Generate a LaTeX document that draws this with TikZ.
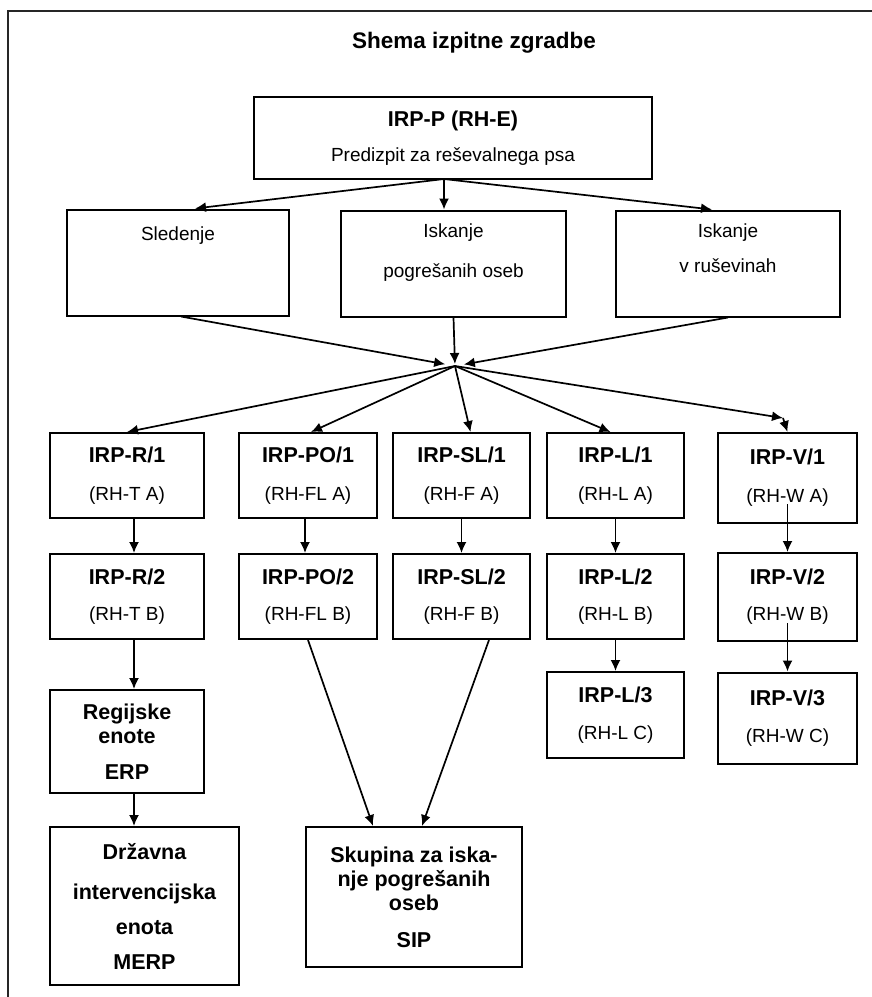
\documentclass[tikz,border=0pt]{standalone}
\usepackage{fontspec}
\setmainfont{Liberation Sans}
\usetikzlibrary{arrows.meta}
\tikzset{%
  >={Latex[width=10pt,length=11pt]},
  % Specifications for style of nodes:
  base/.style = {
    draw=black,
    line width=2pt,
    inner sep=0pt,
    text centered,
    font=\fontsize{19}{24}\selectfont
  },
  action/.style={base, rectangle, align=center},
  unit/.style={action, font=\fontsize{21.5}{24}\selectfont\bfseries},
  search/.style={base, rectangle, minimum height=106pt},
}
\newcommand{\code}[1]{{\fontsize{21.5}{24}\selectfont\bfseries #1}}
\newcommand{\toptext}[2]{\parbox[c][106pt][t]{210pt}{\centering\rule{0pt}{#1}#2}}

\begin{document}
\begin{tikzpicture}[
  x=1pt, y=-1pt,
  line width=1.7pt,
  node distance=121pt,
  ]
  \useasboundingbox (0,0) rectangle (872,997);
  % frame and title
  \draw[line width=2.2pt, black!85] (880,11) -- (8,11) -- (8,1005);
  \node (title) at (474,43) {\fontsize{22.5}{27}\selectfont\bfseries Shema izpitne zgradbe};
  % nodes
  \node (irpp) at (453,138) [action, minimum width=398pt, minimum height=82pt]
  {\code{IRP-P (RH-E)}\\[11pt] Predizpit za reševalnega psa};
  \node (sled) at (178,262.5) [search, minimum width=222pt]
  {\toptext{31pt}{Sledenje}};
  \node (isk) at (453.5,263.5) [search, minimum width=225pt]
  {\toptext{27pt}{Iskanje\\[16pt]pogrešanih oseb}};
  \node (rus) at (728,263.5) [search, minimum width=224pt]
  {\toptext{27pt}{Iskanje\\[11pt]v ruševinah}};
  % first test
  \node (r1) at (127,475.5) [action, minimum width=154pt, minimum height=85pt]
  {\code{IRP-R/1}\\[14pt](RH-T A)};
  \node (po1) at (308,475.5) [action, minimum width=138pt, minimum height=85pt]
  {\code{IRP-PO/1}\\[14pt](RH-FL A)};
  \node (sl1) at (461.5,475.5) [action, minimum width=137pt, minimum height=85pt]
  {\code{IRP-SL/1}\\[14pt](RH-F A)};
  \node (l1) at (615.5,475.5) [action, minimum width=137pt, minimum height=85pt]
  {\code{IRP-L/1}\\[14pt](RH-L A)};
  \node (v1) at (787.5,478) [action, minimum width=139pt, minimum height=90pt]
  {\code{IRP-V/1}\\[14pt](RH-W A)};
  % second test
  \node (r2) [action, below of=r1, minimum width=154pt, minimum height=85pt]
  {\code{IRP-R/2}\\[12pt](RH-T B)};
  \node (po2) [action, below of=po1, minimum width=138pt, minimum height=85pt]
  {\code{IRP-PO/2}\\[12pt](RH-FL B)};
  \node (sl2) [action, below of=sl1, minimum width=137pt, minimum height=85pt]
  {\code{IRP-SL/2}\\[12pt](RH-F B)};
  \node (l2) [action, below of=l1, minimum width=137pt, minimum height=85pt]
  {\code{IRP-L/2}\\[12pt](RH-L B)};
  \node (v2) [action, below of=v1, yshift=2pt, minimum width=139pt, minimum height=88pt]
  {\code{IRP-V/2}\\[12pt](RH-W B)};
  % third test and units
  \node (reg) [unit, below of=r2, yshift=-24pt, minimum width=154pt, minimum height=103pt]
  {Regijske\\enote\\[12pt]ERP};
  \node (l3) [action, below of=l2, yshift=2.5pt, minimum width=137pt, minimum height=86pt]
  {\code{IRP-L/3}\\[13pt](RH-L C)};
  \node (v3) [action, below of=v2, minimum width=139pt, minimum height=91pt]
  {\code{IRP-V/3}\\[13pt](RH-W C)};
  \node (merp) at (144.5,906) [unit, minimum width=189pt, minimum height=158pt]
  {Državna\\[16pt]intervencijska\\[11pt]enota\\[11pt]MERP};
  \node (sip) at (414,897) [unit, minimum width=216pt, minimum height=140pt]
  {Skupina za iska-\\nje pogrešanih\\oseb\\[13pt]SIP};
  % lines
  \coordinate (split) at (444,179);
  \coordinate (hub) at (455,366);
  \coordinate (vkink) at (783,418);
  \draw[->] (split) -- ([xshift=17pt]sled.north);
  \draw[->] (split) -- (split |- isk.north);
  \draw[->] (split) -- ([xshift=-16pt]rus.north);
  \draw[->, shorten >=10pt] ([xshift=3pt]sled.south) -- (hub);
  \draw[->, shorten >=2pt] (isk.south) -- (hub);
  \draw[->, shorten >=9pt] (rus.south) -- (hub);
  \draw[->] (hub) -- (r1.north);
  \draw[->] (hub) -- ([xshift=3pt]po1.north);
  \draw[->] (hub) -- ([xshift=9pt]sl1.north);
  \draw[->] (hub) -- ([xshift=-5pt]l1.north);
  \draw[->] (hub) -- (vkink);
  \draw[->] (vkink) -- (v1.north);
  \draw[->] ([xshift=7pt]r1.south) -- ([xshift=7pt]r2.north);
  \draw[->] ([xshift=-3pt]po1.south) -- ([xshift=-3pt]po2.north);
  \draw[->] (sl1.south) -- (sl2.north);
  \draw[->] (l1.south) -- (l2.north);
  \draw[->] ([yshift=20pt]v1.south) -- (v2.north);
  \draw[->] ([xshift=7pt]r2.south) -- ([xshift=7pt]reg.north);
  \draw[->] (l2.south) -- (l3.north);
  \draw[->] ([yshift=19pt]v2.south) -- (v3.north);
  \draw[->] ([xshift=7pt]reg.south) -- ([xshift=-10.5pt]merp.north);
  \draw[->] (po2.south) -- ([xshift=-41pt]sip.north);
  \draw[->] ([xshift=27.5pt]sl2.south) -- ([xshift=8pt]sip.north);
\end{tikzpicture}
\end{document}
